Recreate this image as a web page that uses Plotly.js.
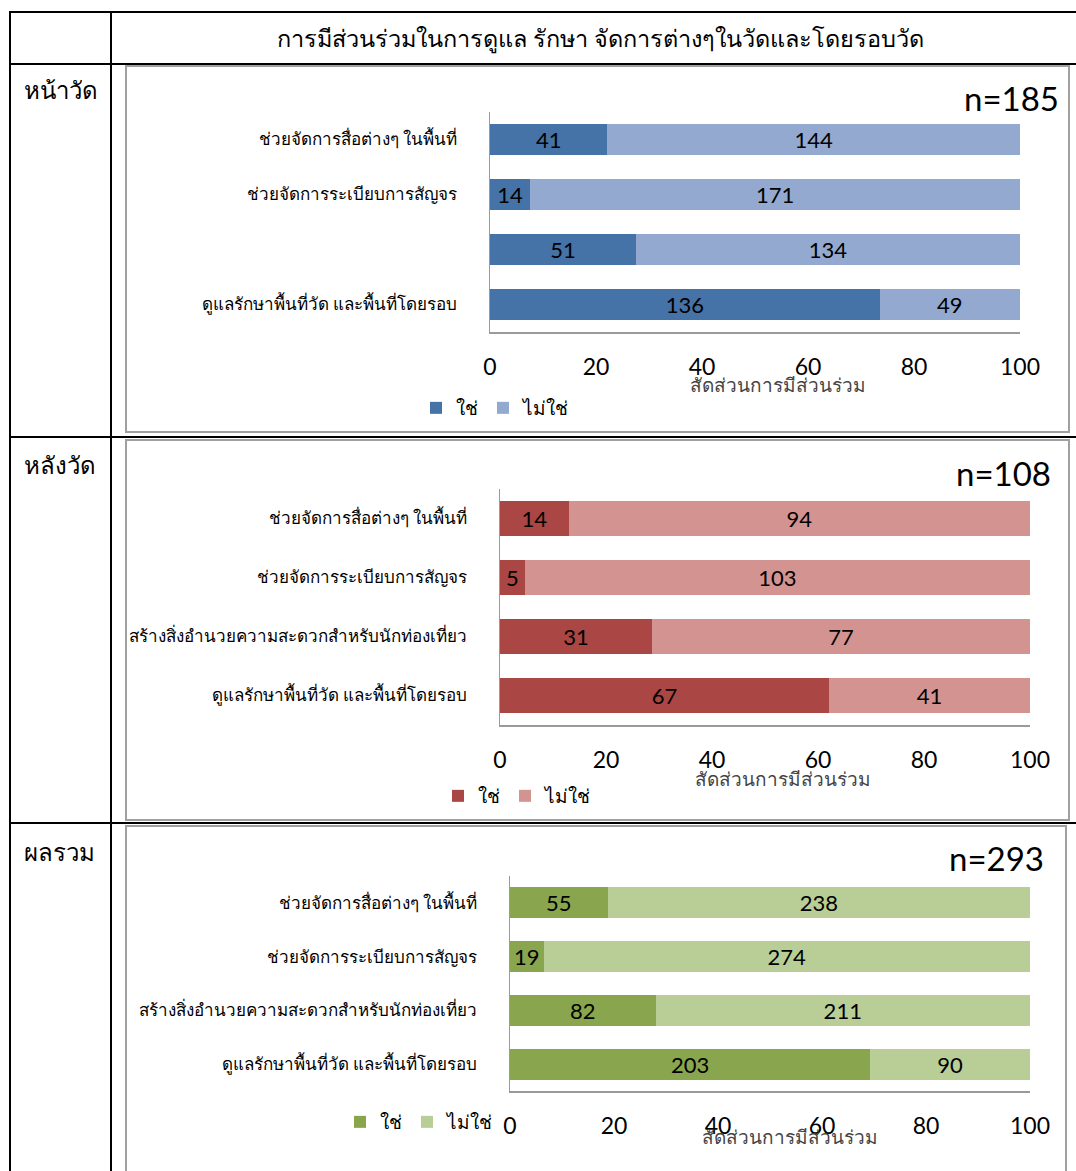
<!DOCTYPE html>
<html><head><meta charset="utf-8">
<script src="https://cdn.plot.ly/plotly-3.0.1.min.js"></script>
<style>html,body{margin:0;padding:0;background:#fff}#chart{width:1076px;height:1171px}</style>
</head><body><div id="chart"></div>
<script>
// ---------- data ----------
const categories = ['ช่วยจัดการสื่อต่างๆ ในพื้นที่','ช่วยจัดการระเบียบการสัญจร','สร้างสิ่งอำนวยความสะดวกสำหรับนักท่องเที่ยว','ดูแลรักษาพื้นที่วัด และพื้นที่โดยรอบ'];
const labelsFront = ['ช่วยจัดการสื่อต่างๆ ในพื้นที่','ช่วยจัดการระเบียบการสัญจร','','ดูแลรักษาพื้นที่วัด และพื้นที่โดยรอบ'];
const yesFront = [41, 14, 51, 136];
const noFront = [144, 171, 134, 49];
const nFront = 185;
const yesBack = [14, 5, 31, 67];
const noBack = [94, 103, 77, 41];
const nBack = 108;
const yesTotal = [55, 19, 82, 203];
const noTotal = [238, 274, 211, 90];
const nTotal = 293;
const seriesNames = ['ใช่', 'ไม่ใช่'];
const xTicks = [0, 20, 40, 60, 80, 100];
const headerTitle = 'การมีส่วนร่วมในการดูแล รักษา จัดการต่างๆในวัดและโดยรอบวัด';
const rowNames = ['หน้าวัด', 'หลังวัด', 'ผลรวม'];
const axisTitle = 'สัดส่วนการมีส่วนร่วม';

// ---------- layout helpers ----------
const W = 1076, H = 1171;
const px = x => x / W, py = y => 1 - y / H;
const THAI = 'Tahoma, "Noto Sans", "DejaVu Sans", sans-serif';
const NUM = 'Lato, "Open Sans", sans-serif';

const panels = [
  {yes: yesFront, no: noFront, n: nFront, labels: labelsFront, colors: ['#4572A7', '#93A9D0'],
   x0: 490, x1: 1020, y0: 112, y1: 332, titleX: 778, titleY: 385, legX: 416, legY: 408, nX: 1061, nY: 98, ax: ''},
  {yes: yesBack, no: noBack, n: nBack, labels: categories, colors: ['#AA4643', '#D39391'],
   x0: 500, x1: 1030, y0: 489, y1: 725, titleX: 783, titleY: 779, legX: 438, legY: 796, nX: 1053, nY: 473, ax: '2'},
  {yes: yesTotal, no: noTotal, n: nTotal, labels: categories, colors: ['#89A54E', '#B9CE96'],
   x0: 510, x1: 1030, y0: 876, y1: 1091, titleX: 790, titleY: 1137, legX: 340, legY: 1122, nX: 1046, nY: 858, ax: '3'}
];

const traces = [];
const layout = {
  width: W, height: H, margin: {l: 0, r: 0, t: 0, b: 0},
  paper_bgcolor: '#fff', plot_bgcolor: '#fff',
  barmode: 'stack', bargap: 0.42, showlegend: true,
  font: {family: THAI, color: '#000'},
  shapes: [], annotations: []
};

panels.forEach((p, i) => {
  const legendId = i === 0 ? 'legend' : 'legend' + (i + 1);
  [p.yes, p.no].forEach((vals, k) => {
    traces.push({
      type: 'bar', orientation: 'h',
      name: seriesNames[k],
      y: categories,
      x: vals.map(v => v / p.n * 100),
      text: vals.map(String),
      textposition: 'inside', insidetextanchor: 'middle', constraintext: 'none', textangle: 0,
      textfont: {family: NUM, size: 22, color: '#000'},
      marker: {color: p.colors[k], line: {width: 0}},
      xaxis: 'x' + p.ax, yaxis: 'y' + p.ax,
      legend: legendId, hoverinfo: 'none'
    });
  });
  layout['xaxis' + p.ax] = {
    domain: [px(p.x0), px(p.x1)], anchor: 'y' + p.ax, range: [0, 100],
    tickvals: xTicks, ticks: 'outside', ticklen: 14, tickcolor: 'rgba(0,0,0,0)',
    tickfont: {family: NUM, size: 23, color: '#000'},
    showgrid: false, zeroline: false, showline: true, linecolor: '#9a9a9a', linewidth: 1.5, fixedrange: true
  };
  layout['yaxis' + p.ax] = {
    domain: [py(p.y1), py(p.y0)], anchor: 'x' + p.ax,
    type: 'category', categoryorder: 'array', categoryarray: categories, autorange: 'reversed',
    tickvals: categories, ticktext: p.labels,
    ticks: 'outside', ticklen: 28, tickcolor: 'rgba(0,0,0,0)',
    tickfont: {family: THAI, size: 17, color: '#000'},
    showgrid: false, zeroline: false, showline: true, linecolor: '#9a9a9a', linewidth: 1.5, fixedrange: true
  };
  layout[legendId] = {
    orientation: 'h', traceorder: 'normal', x: px(p.legX), y: py(p.legY), xanchor: 'left', yanchor: 'middle',
    xref: 'paper', yref: 'paper', bgcolor: 'rgba(0,0,0,0)',
    font: {family: THAI, size: 19, color: '#000'}, itemwidth: 30, tracegroupgap: 0
  };
  layout.annotations.push({
    text: 'n=' + p.n, xref: 'paper', yref: 'paper', x: px(p.nX), y: py(p.nY),
    xanchor: 'right', yanchor: 'middle', showarrow: false,
    font: {family: NUM, size: 33, color: '#000'}
  });
  layout.annotations.push({
    text: axisTitle, xref: 'paper', yref: 'paper', x: px(p.titleX), y: py(p.titleY),
    xanchor: 'center', yanchor: 'middle', showarrow: false,
    font: {family: THAI, size: 19, color: '#444'}
  });
});

// table frame
const black = {color: '#000', width: 2};
const hl = (y) => ({type: 'line', xref: 'paper', yref: 'paper', x0: px(9), x1: px(1076), y0: py(y), y1: py(y), line: black});
const vl = (x) => ({type: 'line', xref: 'paper', yref: 'paper', x0: px(x), x1: px(x), y0: py(12), y1: py(1171), line: black});
layout.shapes.push(hl(12), hl(64), hl(437), hl(823), vl(10), vl(111));
// chart boxes
const box = (x0, y0, x1, y1) => ({type: 'rect', xref: 'paper', yref: 'paper', x0: px(x0), x1: px(x1), y0: py(y1), y1: py(y0),
  line: {color: '#a0a0a0', width: 2}, fillcolor: 'rgba(0,0,0,0)', layer: 'above'});
layout.shapes.push(box(126, 66, 1069, 432), box(126, 440, 1069, 820), box(126, 826, 1066, 1185));

layout.annotations.push({
  text: headerTitle, xref: 'paper', yref: 'paper', x: px(600), y: py(38),
  xanchor: 'center', yanchor: 'middle', showarrow: false, font: {family: THAI, size: 23.5, color: '#000'}
});
[90, 465, 851].forEach((y, i) => layout.annotations.push({
  text: rowNames[i], xref: 'paper', yref: 'paper', x: px(22), y: py(y),
  xanchor: 'left', yanchor: 'middle', showarrow: false, font: {family: THAI, size: 24, color: '#000'}
}));

Plotly.newPlot('chart', traces, layout, {staticPlot: true, displayModeBar: false});
</script></body></html>
